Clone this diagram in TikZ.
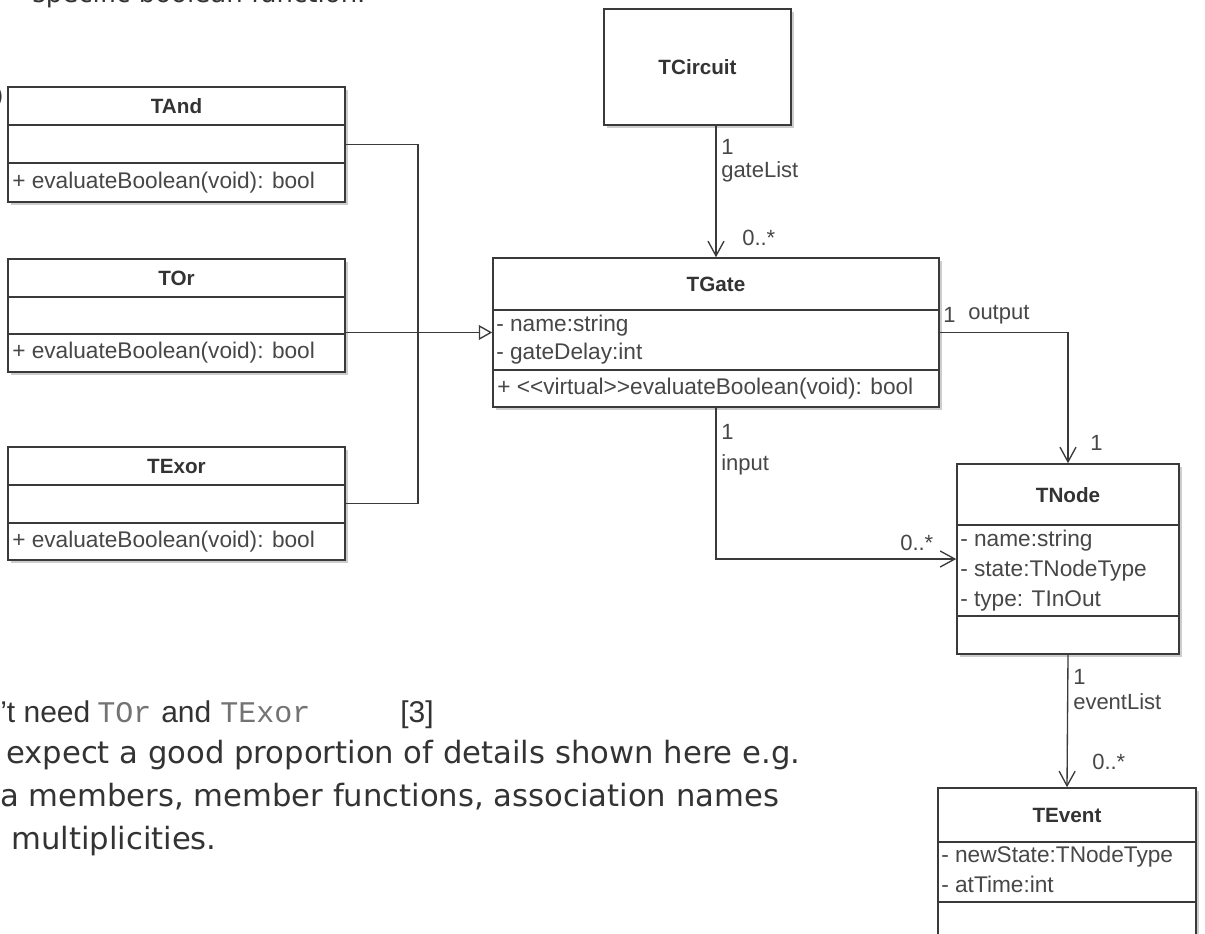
\documentclass[tikz,border=0pt]{standalone}
\usepackage{fontspec}
\setmainfont{Liberation Sans}
\newfontfamily\umlfont{Liberation Sans}
\newfontfamily\verdfont{DejaVu Sans}
\newfontfamily\courfont{Liberation Mono}
\usetikzlibrary{arrows.meta,fit,shadows}
\definecolor{linec}{HTML}{3A3A3A}
\definecolor{txtc}{HTML}{333333}
\definecolor{memc}{HTML}{474747}
\definecolor{shadc}{HTML}{CDCDCD}
\tikzset{
  cls/.style={draw=linec, fill=white, line width=1.2pt, inner sep=0pt,
    drop shadow={shadow xshift=2.5pt, shadow yshift=-2.5pt, fill=shadc, opacity=1}},
  divider/.style={draw=linec, line width=1.2pt},
  hdr/.style={inner sep=0pt, text=txtc, font=\umlfont\bfseries\fontsize{15.5pt}{18pt}\selectfont},
  mem/.style={inner sep=0pt, anchor=west, text=memc, font=\umlfont\fontsize{17pt}{20pt}\selectfont},
  lbl/.style={inner sep=0pt, anchor=west, text=memc, font=\umlfont\fontsize{16.5pt}{19pt}\selectfont},
  assoc/.style={draw=linec, line width=1pt, -{Straight Barb[length=11pt, width=12pt, line width=1pt]}},
  gen/.style={draw=linec, line width=1pt, -{Triangle[open, length=10pt, width=11pt, line width=1pt, fill=white]}},
  prose/.style={inner sep=0pt, anchor=base west, text=black!80, font=\verdfont\fontsize{23pt}{27pt}\selectfont},
  arialtxt/.style={inner sep=0pt, anchor=base west, text=black!80, font=\umlfont\fontsize{22.5pt}{26pt}\selectfont},
  courtxt/.style={inner sep=0pt, anchor=base west, text=black!55, font=\courfont\fontsize{22.5pt}{26pt}\selectfont},
}
\begin{document}
\begin{tikzpicture}[x=0.75pt, y=-0.75pt]
\useasboundingbox (0,0) rectangle (1205,934);
\clip (0,0) rectangle (1205,934);
\fill[white] (0,0) rectangle (1205,934);

% partial texts at the borders
\node[prose, font=\verdfont\fontsize{19.5pt}{22pt}\selectfont] (toptext) at (32,3) {specific boolean function.};
\node[inner sep=0pt, anchor=east, text=black!80, font=\verdfont\fontsize{18pt}{20pt}\selectfont] (paren) at (4,97) {)};

% ---------- left classes ----------
\node[cls, fit={(8,87) (345,202)}] (TAnd) {};
\draw[divider] (TAnd.west |- 0,125) -- (TAnd.east |- 0,125);
\draw[divider] (TAnd.west |- 0,163) -- (TAnd.east |- 0,163);
\node[hdr] (TAndN) at (176.5,106) {TAnd};
\node[mem] (TAndM) at (12,183) {+ evaluateBoolean(void): bool};

\node[cls, fit={(8,259) (345,372)}] (TOr) {};
\draw[divider] (TOr.west |- 0,297) -- (TOr.east |- 0,297);
\draw[divider] (TOr.west |- 0,334) -- (TOr.east |- 0,334);
\node[hdr] (TOrN) at (176.5,278) {TOr};
\node[mem] (TOrM) at (12,353) {+ evaluateBoolean(void): bool};

\node[cls, fit={(8,447) (345,560)}] (TExor) {};
\draw[divider] (TExor.west |- 0,485) -- (TExor.east |- 0,485);
\draw[divider] (TExor.west |- 0,523) -- (TExor.east |- 0,523);
\node[hdr] (TExorN) at (176.5,466) {TExor};
\node[mem] (TExorM) at (12,542) {+ evaluateBoolean(void): bool};

% ---------- TCircuit ----------
\node[cls, fit={(604,9) (791,125)}] (TCircuit) {};
\node[hdr] (TCircuitN) at (697.5,67) {TCircuit};

% ---------- TGate ----------
\node[cls, fit={(493,258) (939,407)}] (TGate) {};
\draw[divider] (TGate.west |- 0,310) -- (TGate.east |- 0,310);
\draw[divider] (TGate.west |- 0,370) -- (TGate.east |- 0,370);
\node[hdr] (TGateN) at (716,284) {TGate};
\node[mem] (TGateA1) at (496,326) {- name:string};
\node[mem] (TGateA2) at (496,354) {- gateDelay:int};
\node[mem] (TGateM) at (497,389) {+ <<virtual>>evaluateBoolean(void): bool};

% ---------- TNode ----------
\node[cls, fit={(957,464) (1179,654)}] (TNode) {};
\draw[divider] (TNode.west |- 0,525) -- (TNode.east |- 0,525);
\draw[divider] (TNode.west |- 0,616) -- (TNode.east |- 0,616);
\node[hdr] (TNodeN) at (1068,495) {TNode};
\node[mem] (TNodeA1) at (960,541) {- name:string};
\node[mem] (TNodeA2) at (960,571) {- state:TNodeType};
\node[mem] (TNodeA3) at (960,601) {- type: TInOut};

% ---------- TEvent ----------
\node[cls, fit={(938,788) (1196,962)}] (TEvent) {};
\draw[divider] (TEvent.west |- 0,842) -- (TEvent.east |- 0,842);
\draw[divider] (TEvent.west |- 0,902) -- (TEvent.east |- 0,902);
\node[hdr] (TEventN) at (1067,815) {TEvent};
\node[mem] (TEventA1) at (941,857) {- newState:TNodeType};
\node[mem] (TEventA2) at (941,884) {- atTime:int};

% ---------- connectors ----------
\draw[linec, line width=1pt] (TAnd.east) -- (418,144.5) |- (TExor.east);
\draw[gen] (TOr.east |- TGate.west) -- (TGate.west);
\draw[assoc] (TGate.north |- TCircuit.south) -- (TGate.north);
\draw[assoc] (TGate.east) -| (TNode.north);
\draw[assoc] (TGate.south) |- (TNode.west);
\draw[assoc] (TNode.south) -- (TEvent.north);

% ---------- association labels ----------
\node[lbl] (gl1) at (721,147) {1};
\node[lbl] (gl2) at (721,172) {gateList};
\node[lbl] (gl3) at (742,238) {0..*};
\node[lbl] (ou1) at (943,315) {1};
\node[lbl] (ou2) at (968,315) {output};
\node[lbl] (ou3) at (1090,443) {1};
\node[lbl] (in1) at (721,432) {1};
\node[lbl] (in2) at (721,465) {input};
\node[lbl] (in3) at (900,543) {0..*};
\node[lbl] (ev1) at (1073,677) {1};
\node[lbl] (ev2) at (1073,702) {eventList};
\node[lbl] (ev3) at (1092,762) {0..*};

% ---------- prose at the bottom left ----------
\node[arialtxt] (p1a) at (0,722) {’t need};
\node[courtxt] (p1b) at (97,722) {TOr};
\node[arialtxt] (p1c) at (161,722) {and};
\node[courtxt] (p1d) at (220,722) {TExor};
\node[arialtxt] (p1e) at (400,722) {[3]};
\node[prose] (p2) at (6,763) {expect a good proportion of details shown here e.g.};
\node[prose] (p3) at (0,806) {a members, member functions, association names};
\node[prose] (p4) at (11,849) {multiplicities.};
\end{tikzpicture}
\end{document}
